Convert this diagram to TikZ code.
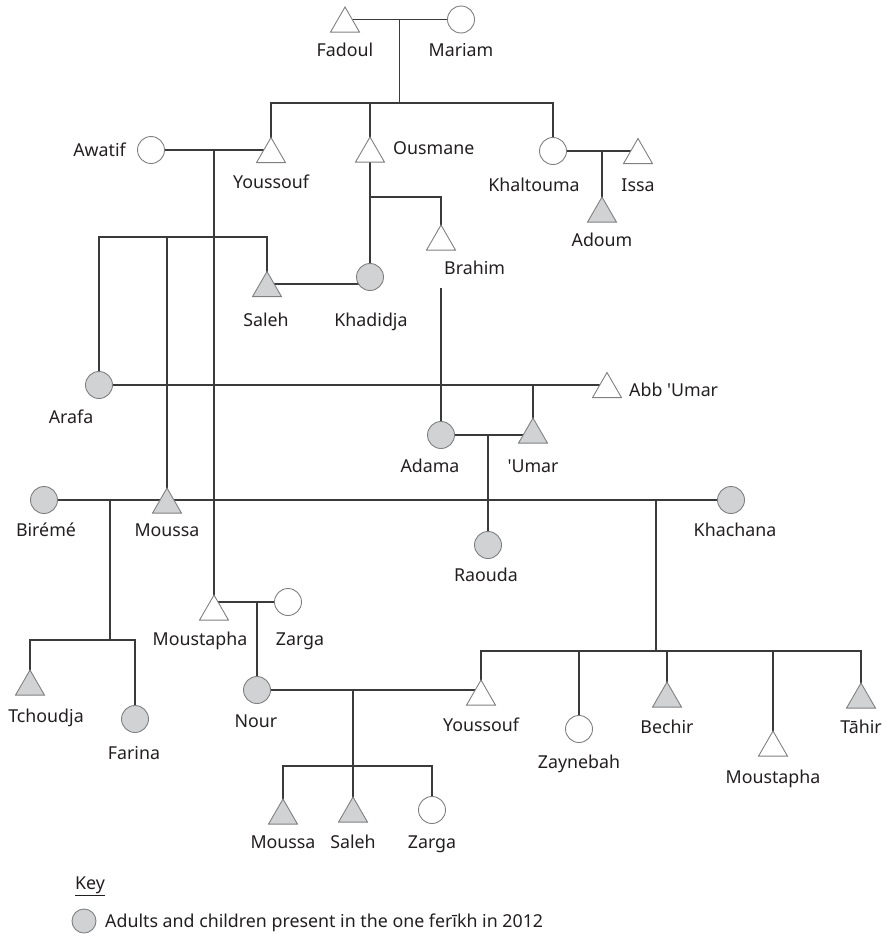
\documentclass[tikz,border=0pt]{standalone}
\usepackage{fontspec}
\setmainfont{Noto Sans}
\usetikzlibrary{shapes.geometric,backgrounds}
\definecolor{edge}{HTML}{3A3A3A}
\definecolor{shapeline}{HTML}{808080}
\definecolor{present}{HTML}{D1D2D4}
\definecolor{ink}{HTML}{231F20}

\begin{document}
\begin{tikzpicture}[x=1pt,y=-1pt,
  male/.style={regular polygon, regular polygon sides=3, minimum size=33.4pt,
    inner sep=0pt, outer sep=0pt, draw=shapeline, line width=0.9pt, fill=white},
  female/.style={circle, minimum size=27pt, inner sep=0pt, outer sep=0pt,
    draw=shapeline, line width=0.9pt, fill=white},
  here/.style={fill=present},
  lbl/.style={anchor=base, yshift=-6.3pt, text=ink,
    font=\fontsize{17.8}{20}\selectfont, inner sep=0pt},
  lblw/.style={lbl, anchor=base west},
  lble/.style={lbl, anchor=base east},
  link/.style={draw=edge, line width=1.1pt}]

\useasboundingbox (0,0) rectangle (888,937);

% ---------- people ----------
\node[male]          (fadoul)     at (345,23.7)  {};
\node[female]        (mariam)     at (461,19.5)  {};
\node[female]        (awatif)     at (151,150)   {};
\node[male]          (youssouf1)  at (271,154.2) {};
\node[male]          (ousmane)    at (370,153.7) {};
\node[female]        (khaltouma)  at (553,151)   {};
\node[male]          (issa)       at (638,155.2) {};
\node[male, here]    (adoum)      at (602,213.7) {};
\node[male]          (brahim)     at (441,241.7) {};
\node[male, here]    (saleh1)     at (267,288.2) {};
\node[female, here]  (khadidja)   at (370,277)   {};
\node[female, here]  (arafa)      at (99,385)    {};
\node[male]          (abb)        at (607,389.2) {};
\node[female, here]  (adama)      at (441,435)   {};
\node[male, here]    (umar)       at (533,434.7) {};
\node[female, here]  (bireme)     at (44,500)    {};
\node[male, here]    (moussa1)    at (167,504.7) {};
\node[female, here]  (khachana)   at (731,500)   {};
\node[female, here]  (raouda)     at (488,545)   {};
\node[male]          (moustapha1) at (214,611.7) {};
\node[female]        (zarga1)     at (288,602)   {};
\node[male, here]    (tchoudja)   at (30,686.7)  {};
\node[female, here]  (farina)     at (135,719)   {};
\node[female, here]  (nour)       at (257,690)   {};
\node[male]          (youssouf2)  at (481,696.7) {};
\node[female]        (zaynebah)   at (579,729)   {};
\node[male, here]    (bechir)     at (667,698.7) {};
\node[male]          (moustapha2) at (773,747.7) {};
\node[male, here]    (tahir)      at (861,699.7) {};
\node[male, here]    (moussa2)    at (283,815.7) {};
\node[male, here]    (saleh2)     at (353,813.7) {};
\node[female]        (zarga2)     at (432,810)   {};

% ---------- names ----------
\node[lbl]  (tfadoul)     at (345,50)  {Fadoul};
\node[lbl]  (tmariam)     at (461,50)  {Mariam};
\node[lble] (tawatif)     at (126,150) {Awatif};
\node[lbl]  (tyoussouf1)  at (271,182) {Youssouf};
\node[lblw] (tousmane)    at (393,148) {Ousmane};
\node[lbl]  (tkhaltouma)  at (534,185) {Khaltouma};
\node[lbl]  (tissa)       at (638,185) {Issa};
\node[lbl]  (tadoum)      at (602,240) {Adoum};
\node[lblw] (tbrahim)     at (444,268) {Brahim};
\node[lbl]  (tsaleh1)     at (266,320) {Saleh};
\node[lbl]  (tkhadidja)   at (371,320) {Khadidja};
\node[lbl]  (tarafa)      at (71,417)  {Arafa};
\node[lblw] (tabb)        at (629,390) {Abb \textquotesingle Umar};
\node[lbl]  (tadama)      at (430,466) {Adama};
\node[lbl]  (tumar)       at (533,466) {\textquotesingle Umar};
\node[lbl]  (tbireme)     at (46,530)  {Birémé};
\node[lbl]  (tmoussa1)    at (167,530) {Moussa};
\node[lbl]  (tkhachana)   at (735,530) {Khachana};
\node[lbl]  (traouda)     at (486,575) {Raouda};
\node[lbl]  (tmoustapha1) at (200,639) {Moustapha};
\node[lbl]  (tzarga1)     at (300,639) {Zarga};
\node[lbl]  (ttchoudja)   at (46,716)  {Tchoudja};
\node[lbl]  (tfarina)     at (134,753) {Farina};
\node[lbl]  (tnour)       at (256,721) {Nour};
\node[lbl]  (tyoussouf2)  at (481,725) {Youssouf};
\node[lbl]  (tzaynebah)   at (579,762) {Zaynebah};
\node[lbl]  (tbechir)     at (667,727) {Bechir};
\node[lbl]  (tmoustapha2) at (773,777) {Moustapha};
\node[lbl]  (ttahir)      at (861,727) {Tāhir};
\node[lbl]  (tmoussa2)    at (283,842) {Moussa};
\node[lbl]  (tsaleh2)     at (353,842) {Saleh};
\node[lbl]  (tzarga2)     at (432,842) {Zarga};

% ---------- key ----------
\node[lblw] (keyhead) at (75,883) {\underline{Key}};
\node[female, here, minimum size=24pt] (keysym) at (84,921) {};
\node[lblw] (keytext) at (105,921) {Adults and children present in the one ferīkh in 2012};

% ---------- junction points ----------
\coordinate (fm)   at (399.5,19.5);
\coordinate (sib1) at (399.5,103);
\coordinate (ay)   at (214,150);
\coordinate (sibA) at (214,237);
\coordinate (ob)   at (370,197);
\coordinate (bt)   at (441,288);
\coordinate (au)   at (488,435);
\coordinate (bm)   at (110,500);
\coordinate (bmc)  at (110,640);
\coordinate (mk)   at (656,500);
\coordinate (mkc)  at (656,651);
\coordinate (mz)   at (257,602);
\coordinate (ny)   at (353,690);
\coordinate (nyc)  at (353,766);

% ---------- kinship lines, behind the symbols ----------
\begin{pgfonlayer}{background}
  % Fadoul and Mariam
  \draw[link] (mariam.center) -- (mariam.center -| fadoul.center);
  \draw[link] (fm) -- (sib1);
  \draw[link] (youssouf1.center) |- (sib1) -| (khaltouma.center);
  \draw[link] (ousmane.center) -- (ousmane.center |- sib1);
  % Awatif and Youssouf
  \draw[link] (awatif.center) -- (awatif.center -| youssouf1.center);
  \draw[link] (ay) -- (moustapha1.center);
  \draw[link] (arafa.center) |- (sibA) -| (saleh1.center);
  \draw[link] (moussa1.center) -- (moussa1.center |- sibA);
  % Ousmane
  \draw[link] (ousmane.center) -- (khadidja.center);
  \draw[link] (ob) -| (brahim.center);
  % Khaltouma and Issa
  \draw[link] (khaltouma.center) -- (khaltouma.center -| issa.center);
  \draw[link] (adoum.center) -- (adoum.center |- khaltouma.center);
  % Saleh and Khadidja
  \draw[link] (saleh1.side 3) -- (saleh1.side 3 -| khadidja.center);
  % Brahim to Adama
  \draw[link] (bt) -- (adama.center);
  % Arafa and Abb 'Umar
  \draw[link] (arafa.center) -- (arafa.center -| abb.center);
  \draw[link] (umar.center) -- (umar.center |- arafa.center);
  % Adama and 'Umar
  \draw[link] (adama.center) -- (adama.center -| umar.center);
  \draw[link] (au) -- (raouda.center);
  % Birémé, Moussa and Khachana
  \draw[link] (bireme.center) -- (khachana.center);
  \draw[link] (bm) -- (bmc);
  \draw[link] (tchoudja.center) |- (bmc) -| (farina.center);
  \draw[link] (mk) -- (mkc);
  \draw[link] (youssouf2.center) |- (mkc) -| (tahir.center);
  \draw[link] (zaynebah.center) -- (zaynebah.center |- mkc);
  \draw[link] (bechir.center) -- (bechir.center |- mkc);
  \draw[link] (moustapha2.center) -- (moustapha2.center |- mkc);
  % Moustapha and Zarga
  \draw[link] (zarga1.center) -- (zarga1.center -| moustapha1.center);
  \draw[link] (mz) -- (nour.center);
  % Nour and Youssouf
  \draw[link] (nour.center) -- (nour.center -| youssouf2.center);
  \draw[link] (ny) -- (nyc);
  \draw[link] (moussa2.center) |- (nyc) -| (zarga2.center);
  \draw[link] (saleh2.center) -- (saleh2.center |- nyc);
\end{pgfonlayer}
\end{tikzpicture}
\end{document}
